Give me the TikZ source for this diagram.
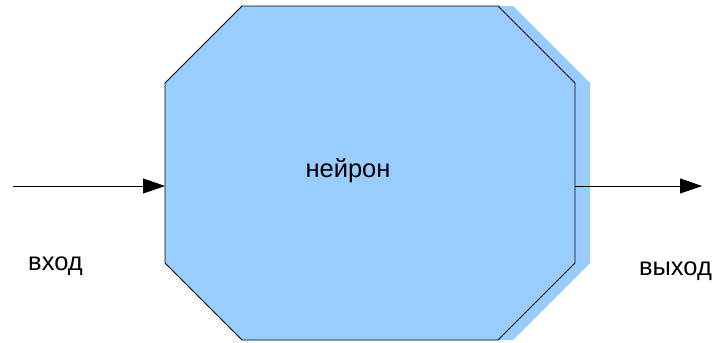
\documentclass[tikz,border=0pt]{standalone}
\usepackage{fontspec}
\setmainfont{Liberation Sans}
\usetikzlibrary{arrows.meta}
\definecolor{cellblue}{HTML}{99CCFF}
\tikzset{
  octo/.style={draw=black, line width=0.8pt, fill=cellblue, line join=miter},
  octoshadow/.style={fill=cellblue, draw=none},
  arrowline/.style={draw=black, line width=0.8pt, -{Triangle[length=22pt,width=15pt]}},
  lbl/.style={anchor=base, inner sep=0pt, font=\fontsize{25.5}{30}\selectfont}
}
\begin{document}
\begin{tikzpicture}[x=1pt,y=-1pt]
\useasboundingbox (0,0) rectangle (716,343);
% shadow
\path[octoshadow] (180,83) -- (257,6) -- (513,6) -- (590,83) -- (590,263) -- (513,340) -- (257,340) -- (180,263) -- cycle;
% body
\path[octo] (165,83) -- (242,6) -- (498,6) -- (575,83) -- (575,263) -- (498,340) -- (242,340) -- (165,263) -- cycle;
\coordinate (src) at (13,186);
\coordinate (in) at (165,186);
\coordinate (out) at (575,186);
\coordinate (dst) at (702,186);
\draw[arrowline] (src) -- (in);
\draw[arrowline] (out) -- (dst);
\node[lbl] (neuron) at (348,177.5) {нейрон};
\node[lbl] (inlbl) at (55.5,270.7) {вход};
\node[lbl] (outlbl) at (675.5,275.7) {выход};
\end{tikzpicture}
\end{document}
